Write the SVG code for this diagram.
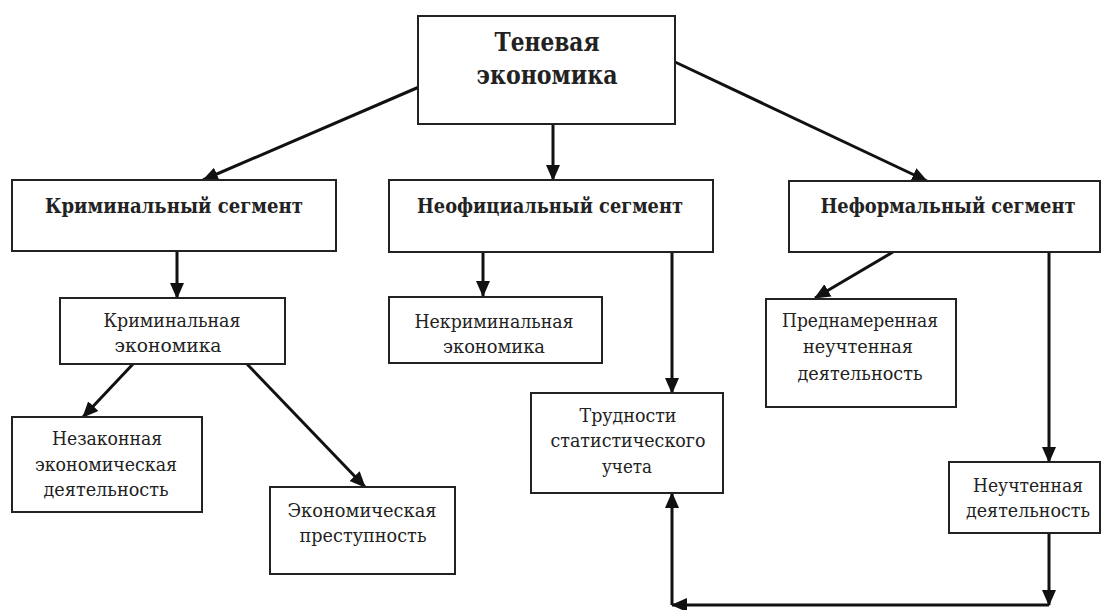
<svg xmlns="http://www.w3.org/2000/svg" width="1104" height="610" viewBox="0 0 1104 610">
<style>
.box{fill:#fff;stroke:#222;stroke-width:2}
.t{font-family:'DejaVu Serif','Liberation Serif',serif;fill:#222;text-anchor:middle}
.n{font-size:18px}
.b{font-size:20px;font-weight:bold}
.h{font-size:26px;font-weight:bold}
.c{stroke:#111;stroke-width:3;fill:none;marker-end:url(#ah)}
</style>
<defs>
<marker id="ah" markerUnits="userSpaceOnUse" markerWidth="16" markerHeight="16" viewBox="0 0 16 16" refX="15" refY="8" orient="auto">
<path d="M0,1 L16,8 L0,15 Z" fill="#111"/>
</marker>
</defs>
<rect width="1104" height="610" fill="#fff"/>
<g id="connectors">
<line class="c" x1="419" y1="87" x2="203" y2="180"/>
<line class="c" x1="553" y1="124" x2="553" y2="180"/>
<line class="c" x1="675" y1="62" x2="927" y2="181"/>
<line class="c" x1="177" y1="251" x2="177" y2="298"/>
<line class="c" x1="483" y1="252" x2="483" y2="296"/>
<line class="c" x1="672" y1="252" x2="672" y2="393"/>
<line class="c" x1="893" y1="252" x2="815" y2="298"/>
<line class="c" x1="1049" y1="252" x2="1049" y2="462"/>
<line class="c" x1="133" y1="364" x2="83" y2="417"/>
<line class="c" x1="247" y1="364" x2="365" y2="487"/>
<line class="c" x1="1049" y1="533" x2="1049" y2="605"/>
<line class="c" x1="1049" y1="605" x2="672" y2="605"/>
<line class="c" x1="672" y1="605" x2="672" y2="493"/>
</g>
<g id="n-shadow">
<rect class="box" x="418" y="16" width="257" height="108"/>
<text class="t h" x="547" y="51" textLength="105" lengthAdjust="spacingAndGlyphs">Теневая</text>
<text class="t h" x="547" y="84" textLength="141" lengthAdjust="spacingAndGlyphs">экономика</text>
</g>
<g id="n-criminal-seg">
<rect class="box" x="12" y="180" width="324" height="71"/>
<text class="t b" x="174" y="213" textLength="258" lengthAdjust="spacingAndGlyphs">Криминальный сегмент</text>
</g>
<g id="n-unofficial-seg">
<rect class="box" x="389" y="180" width="324" height="72"/>
<text class="t b" x="550" y="213" textLength="266" lengthAdjust="spacingAndGlyphs">Неофициальный сегмент</text>
</g>
<g id="n-informal-seg">
<rect class="box" x="789" y="181" width="311" height="71"/>
<text class="t b" x="948" y="213" font-size="18" textLength="255" lengthAdjust="spacingAndGlyphs">Неформальный сегмент</text>
</g>
<g id="n-criminal-econ">
<rect class="box" x="60" y="298" width="225" height="66"/>
<text class="t n" x="172" y="327" textLength="137" lengthAdjust="spacingAndGlyphs">Криминальная</text>
<text class="t n" x="168" y="352" textLength="107" lengthAdjust="spacingAndGlyphs">экономика</text>
</g>
<g id="n-noncriminal-econ">
<rect class="box" x="389" y="297" width="213" height="66"/>
<text class="t n" x="494" y="328" textLength="159" lengthAdjust="spacingAndGlyphs">Некриминальная</text>
<text class="t n" x="494" y="353" textLength="102" lengthAdjust="spacingAndGlyphs">экономика</text>
</g>
<g id="n-deliberate">
<rect class="box" x="766" y="299" width="190" height="108"/>
<text class="t n" x="860" y="327" textLength="156" lengthAdjust="spacingAndGlyphs">Преднамеренная</text>
<text class="t n" x="858" y="353" textLength="110" lengthAdjust="spacingAndGlyphs">неучтенная</text>
<text class="t n" x="860" y="380" textLength="125" lengthAdjust="spacingAndGlyphs">деятельность</text>
</g>
<g id="n-illegal">
<rect class="box" x="12" y="417" width="190" height="95"/>
<text class="t n" x="107" y="445" textLength="110" lengthAdjust="spacingAndGlyphs">Незаконная</text>
<text class="t n" x="106" y="471" textLength="142" lengthAdjust="spacingAndGlyphs">экономическая</text>
<text class="t n" x="106" y="496" textLength="125" lengthAdjust="spacingAndGlyphs">деятельность</text>
</g>
<g id="n-crime">
<rect class="box" x="270" y="487" width="185" height="87"/>
<text class="t n" x="362" y="517" textLength="149" lengthAdjust="spacingAndGlyphs">Экономическая</text>
<text class="t n" x="363" y="542" textLength="127" lengthAdjust="spacingAndGlyphs">преступность</text>
</g>
<g id="n-stat">
<rect class="box" x="531" y="393" width="192" height="100"/>
<text class="t n" x="628" y="422" textLength="97" lengthAdjust="spacingAndGlyphs">Трудности</text>
<text class="t n" x="628" y="447" textLength="155" lengthAdjust="spacingAndGlyphs">статистического</text>
<text class="t n" x="627" y="473" textLength="50" lengthAdjust="spacingAndGlyphs">учета</text>
</g>
<g id="n-unaccounted">
<rect class="box" x="949" y="462" width="151" height="71"/>
<text class="t n" x="1028" y="492" textLength="110" lengthAdjust="spacingAndGlyphs">Неучтенная</text>
<text class="t n" x="1028" y="517" textLength="124" lengthAdjust="spacingAndGlyphs">деятельность</text>
</g>
</svg>
